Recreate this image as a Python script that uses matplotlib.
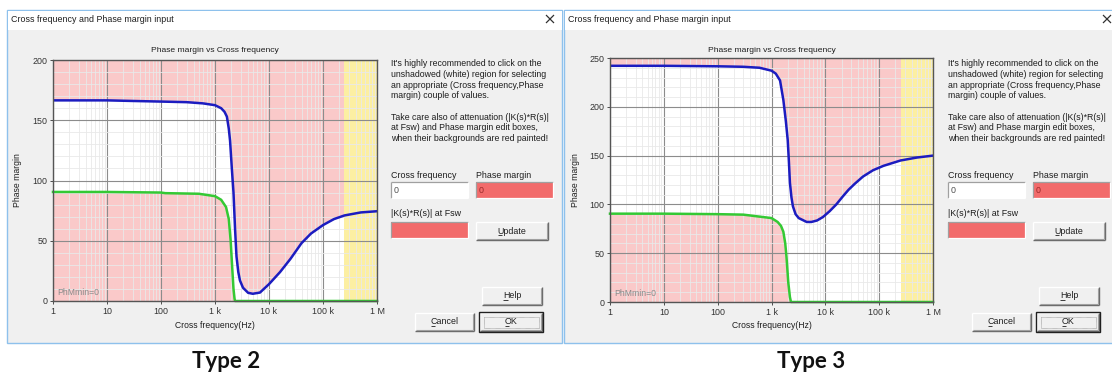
import matplotlib
matplotlib.use("Agg")
import matplotlib.pyplot as plt
from matplotlib.patches import Rectangle
from matplotlib.ticker import FixedLocator, LogLocator, MultipleLocator, NullFormatter

W, H = 1112, 378
plt.rcParams['font.family'] = ['Liberation Sans', 'DejaVu Sans']
plt.rcParams['mathtext.default'] = 'regular'

# ---- Type 2 compensator: phase margin bounds vs cross frequency ----
t2_blue_f = [1, 10, 30, 100, 300, 600, 1000, 1300, 1500, 1660, 1800, 1900, 2050, 2200,
             2350, 2500, 2700, 2900, 3300, 4100, 5000, 6800, 10e3, 16e3, 25e3,
             40e3, 60e3, 100e3, 160e3, 250e3, 500e3, 1e6]
t2_blue_pm = [166.5, 166.5, 166, 165.5, 165, 164, 162.5, 160, 157, 153, 143, 133, 110, 90,
              60, 37, 24, 17, 11, 6.8, 6, 7, 14, 24, 35,
              48, 56, 63, 68, 71, 73.5, 74.5]
t2_green_f = [1, 10, 100, 120, 500, 1000, 1300, 1600, 1800, 1950, 2100, 2200, 2300, 2350, 1e6]
t2_green_pm = [90.5, 90.5, 90, 89.5, 89, 87, 84, 78, 68, 50, 25, 10, 2, 0, 0]

# ---- Type 3 compensator ----
t3_blue_f = [1, 10, 100, 300, 600, 1000, 1200, 1440, 1660, 1850, 2000, 2100, 2200,
             2350, 2500, 2800, 3200, 4500, 5500, 7000, 9000, 12e3, 16e3, 21e3, 27e3, 35e3,
             50e3, 77e3, 120e3, 250e3, 500e3, 1e6]
t3_blue_pm = [242, 242, 241.5, 241, 240, 237, 234, 227, 207, 185, 166, 145, 122,
              107, 98, 90, 86, 82, 82, 83.5, 87, 93, 100, 108, 115, 121,
              128.5, 135, 139.5, 145, 148, 150]
t3_green_f = [1, 10, 100, 300, 500, 1000, 1300, 1500, 1660, 1800, 1900, 2050, 2200, 2300, 1e6]
t3_green_pm = [90.5, 90.5, 90, 89.5, 88, 86, 82, 78, 72, 60, 46, 20, 5, 0, 0]

freq_ticks = [1, 10, 100, 1e3, 1e4, 1e5, 1e6]
freq_labels = ['1', '10', '100', '1 k', '10 k', '100 k', '1 M']
t2_yticks = [0, 50, 100, 150, 200]
t3_yticks = [0, 50, 100, 150, 200, 250]
fsw = 250e3
fsw_label = 'F$_{sw}$=250 k'
ph_min_label = 'PhMmin=0'

dialog_title = 'Cross frequency and Phase margin input'
chart_title = 'Phase margin vs Cross frequency'
help_lines = [
    "It's highly recommended to click on the",
    "unshadowed (white) region for selecting",
    "an appropriate (Cross frequency,Phase",
    "margin) couple of values.",
    "",
    "Take care also of attenuation (|K(s)*R(s)|",
    "at Fsw) and Phase margin edit boxes,",
    "when their backgrounds are red painted!",
]
captions = ['Type 2', 'Type 3']

PINK = '#fac9c9'
YELLOW = '#fcefa2'
RED_BOX = '#f26b6b'
FACE = '#f0f0f0'
BORDER = '#8ec1ec'
TXT = '#1e1e1e'
UI_SIZE = 6.4

fig = plt.figure(figsize=(W / 100, H / 100), dpi=100)
bg = fig.add_axes([0, 0, 1, 1])
bg.set_xlim(0, W)
bg.set_ylim(H, 0)
bg.axis('off')


def box(x0, y0, x1, y1, fc, ec='none', lw=0.8, z=1, ls='-'):
    bg.add_patch(Rectangle((x0, y0), x1 - x0, y1 - y0, facecolor=fc,
                           edgecolor=ec, lw=lw, zorder=z, linestyle=ls))


def seg(x0, y0, x1, y1, c, lw=1.0, z=3):
    bg.plot([x0, x1], [y0, y1], color=c, lw=lw, zorder=z,
            solid_capstyle='butt')


def button(x0, y0, x1, y1, label, default=False):
    box(x0, y0, x1, y1, FACE, z=2)
    seg(x0, y0, x1, y0, 'white', z=3)
    seg(x0, y0, x0, y1, 'white', z=3)
    seg(x0, y1, x1, y1, '#6a6a6a', z=3)
    seg(x1, y0, x1, y1, '#6a6a6a', z=3)
    seg(x0 + 1, y1 - 1, x1 - 1, y1 - 1, '#a0a0a0', lw=0.8, z=3)
    seg(x1 - 1, y0 + 1, x1 - 1, y1 - 1, '#a0a0a0', lw=0.8, z=3)
    if default:
        box(x0 - 1, y0 - 1, x1 + 1, y1 + 1, 'none', ec='#202020', lw=1.0, z=4)
        box(x0 + 3.5, y0 + 3.5, x1 - 3.5, y1 - 3.5, 'none', ec='#606060',
            lw=0.4, z=4, ls=(0, (1, 1)))
    cx, cy = (x0 + x1) / 2, (y0 + y1) / 2
    t = bg.text(cx, cy, label, ha='center', va='center', fontsize=UI_SIZE,
                color=TXT, zorder=5)
    return t, cy


def edit_box(x0, y0, x1, y1, fc, text='', tc=TXT):
    box(x0, y0, x1, y1, fc, z=2)
    seg(x0, y0, x1, y0, '#a0a0a0', lw=0.9)
    seg(x0, y0, x0, y1, '#a0a0a0', lw=0.9)
    seg(x0, y1, x1, y1, '#ffffff', lw=0.9)
    seg(x1, y0, x1, y1, '#ffffff', lw=0.9)
    if text:
        bg.text(x0 + 2.5, (y0 + y1) / 2 + 0.5, text, ha='left', va='center',
                fontsize=UI_SIZE, color=tc, zorder=5)


buttons_to_underline = []


def dialog(dx, right_edge):
    # window frame
    box(dx + 7, 10, right_edge, 343, FACE, ec=BORDER, lw=1.0, z=0.5)
    box(dx + 7.5, 10.5, right_edge - 0.5, 30, 'white', z=0.6)
    bg.text(dx + 11, 20, dialog_title, ha='left', va='center',
            fontsize=UI_SIZE, color=TXT)
    seg(dx + 546, 15, dx + 554, 23, '#303030', lw=0.9)
    seg(dx + 546, 23, dx + 554, 15, '#303030', lw=0.9)

    # guidance text
    y = 64
    for line in help_lines:
        if line:
            bg.text(dx + 391, y, line, ha='left', va='center',
                    fontsize=6.3, color=TXT)
        y += 10.6

    bg.text(dx + 391, 175, 'Cross frequency', ha='left', va='center',
            fontsize=UI_SIZE, color=TXT)
    bg.text(dx + 476, 175, 'Phase margin', ha='left', va='center',
            fontsize=UI_SIZE, color=TXT)
    edit_box(dx + 391, 182, dx + 468, 198, 'white', '0', '#505050')
    edit_box(dx + 476, 182, dx + 553, 198, RED_BOX, '0', '#9a2a2a')
    bg.text(dx + 391, 213, '|K(s)*R(s)| at Fsw', ha='left', va='center',
            fontsize=UI_SIZE, color=TXT)
    edit_box(dx + 391, 222, dx + 468, 238, RED_BOX)

    for (x0, y0, x1, y1, lab, dflt) in [
            (dx + 476, 222, dx + 548, 240, 'Update', False),
            (dx + 482, 287, dx + 542, 305, 'Help', False),
            (dx + 415, 313, dx + 474, 331, 'Cancel', False),
            (dx + 480, 313, dx + 542, 331, 'OK', True)]:
        t, cy = button(x0, y0, x1, y1, lab, dflt)
        buttons_to_underline.append((t, cy))


def phase_plot(px, fb, pmb, fg, pmg, ymax, yticks, dx):
    x0, y0, x1, y1 = px
    ax = fig.add_axes([x0 / W, 1 - y1 / H, (x1 - x0) / W, (y1 - y0) / H])
    ax.set_xscale('log')
    ax.set_xlim(freq_ticks[0], freq_ticks[-1])
    ax.set_ylim(0, ymax)
    ax.set_facecolor('white')

    # infeasible regions: above the upper bound, below the lower bound
    ax.fill_between(fb, pmb, ymax, color=PINK, lw=0, zorder=1)
    ax.fill_between(fg, 0, pmg, color=PINK, lw=0, zorder=1)
    # beyond the switching frequency
    ax.axvspan(fsw, freq_ticks[-1], color=YELLOW, lw=0, zorder=1.2)

    ax.xaxis.set_major_locator(FixedLocator(freq_ticks))
    ax.set_xticklabels(freq_labels)
    ax.xaxis.set_minor_locator(LogLocator(base=10, subs=range(2, 10), numticks=20))
    ax.xaxis.set_minor_formatter(NullFormatter())
    ax.yaxis.set_major_locator(FixedLocator(yticks))
    ax.yaxis.set_minor_locator(MultipleLocator(10))

    ax.set_axisbelow(False)
    ax.grid(which='minor', color='#e9e9e9', lw=0.6)
    ax.grid(which='major', color='#8c8c8c', lw=0.8)

    ax.plot(fg, pmg, color='#34c934', lw=1.8, zorder=4, clip_on=False)
    ax.plot(fb, pmb, color='#1c1cc0', lw=1.8, zorder=5)

    for s in ax.spines.values():
        s.set_color('#555555')
        s.set_linewidth(1.0)
        s.set_zorder(6)
    ax.tick_params(which='major', labelsize=6.4, colors='#333333', length=2.5,
                   width=0.6, pad=1.5)
    ax.tick_params(which='minor', length=0)

    bg.text(dx + 215, 51, chart_title, ha='center', va='center',
            fontsize=6.1, color=TXT)
    bg.text(dx + 18, 180, 'Phase margin', ha='center', va='center',
            rotation=90, fontsize=6.2, color=TXT)
    bg.text(dx + 215, 325, 'Cross frequency(Hz)', ha='center', va='center',
            fontsize=6.2, color=TXT)
    ax.text(0.012, 0.035, ph_min_label, transform=ax.transAxes, ha='left',
            va='center', fontsize=6.2, color='#8a8a8a', zorder=7)
    bg.text(dx + 340, y1 - 8, fsw_label, ha='right', va='center',
            fontsize=6.2, color='#8a8a8a', zorder=7)
    return ax


dialog(0, 562)
dialog(557, W + 2)
phase_plot((53, 60, 377, 301), t2_blue_f, t2_blue_pm, t2_green_f, t2_green_pm,
           200, t2_yticks, 0)
phase_plot((610, 58, 933, 302), t3_blue_f, t3_blue_pm, t3_green_f, t3_green_pm,
           250, t3_yticks, 557)

# white page area under the two windows
box(0, 343.5, W, H, 'white', z=0.4)

bg.text(226, 362, captions[0], ha='center', va='center', fontsize=16,
        fontweight='bold', family='Lato', color='#111111')
bg.text(811, 362, captions[1], ha='center', va='center', fontsize=16,
        fontweight='bold', family='Lato', color='#111111')

# underline the access-key letter of each button caption
fig.canvas.draw()
renderer = fig.canvas.get_renderer()
inv = bg.transData.inverted()
for t, cy in buttons_to_underline:
    bb = t.get_window_extent(renderer)
    xl = inv.transform([[bb.x0, bb.y0]])[0][0]
    seg(xl + 0.3, cy + 4.2, xl + 4.8, cy + 4.2, TXT, lw=0.6, z=6)

fig.savefig('out.png', dpi=100, facecolor='white')
